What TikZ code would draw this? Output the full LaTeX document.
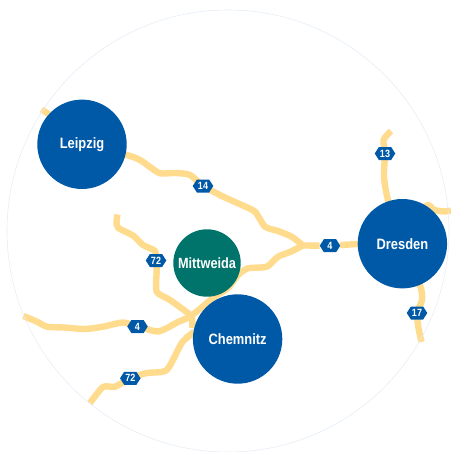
\documentclass[tikz,border=0pt]{standalone}
\usepackage{fontspec}
\setmainfont[FakeStretch=0.86]{Liberation Sans}
\usetikzlibrary{shapes.symbols,backgrounds}
\definecolor{cityblue}{HTML}{0059A7}
\definecolor{citygreen}{HTML}{00736B}
\definecolor{roadyellow}{HTML}{FFDB8E}
\definecolor{ringline}{HTML}{E6EDF5}
\tikzset{
  city/.style={circle,fill=cityblue,text=white,inner sep=0pt,minimum size=89.4pt,font=\fontsize{15}{16}\selectfont\bfseries},
  town/.style={city,fill=citygreen,minimum size=67.4pt,font=\fontsize{14.8}{16}\selectfont\bfseries},
  shield/.style={signal,signal to=east and west,signal pointer angle=115,fill=cityblue,text=white,inner sep=0pt,minimum width=20.5pt,minimum height=13pt,font=\fontsize{10.5}{11}\selectfont\bfseries},
  road/.style={draw=roadyellow,line width=6.4pt,line join=round,line cap=butt},
  ring/.style={draw=ringline,line width=0.6pt},
}
\begin{document}
\begin{tikzpicture}[x=1pt,y=-1pt]
\useasboundingbox (0,0) rectangle (450,452);
\clip (0,0) rectangle (450,452);
\draw[ring] (228,231) circle[radius=221pt];
\node[city] (leipzig) at (82,144.3) {Leipzig};
\node[city] (dresden) at (402.4,243.7) {Dresden};
\node[city] (chemnitz) at (237.6,339) {Chemnitz};
\node[town] (mittweida) at (207,263) {Mittweida};
\node[shield] (s14) at (203,186) {14};
\node[shield] (s4e) at (330,245.7) {4};
\node[shield] (s13) at (385,153.5) {13};
\node[shield] (s17) at (417,313) {17};
\node[shield] (s72n) at (156,260.5) {72};
\node[shield] (s4w) at (137.5,326.5) {4};
\node[shield] (s72s) at (130.3,378.3) {72};
\coordinate (fork) at (303,245.5);
\coordinate (hub) at (191,316);
\coordinate (endA) at (41.5,109.5);
\coordinate (endB) at (117.5,214.5);
\coordinate (endC) at (23.5,316);
\coordinate (endD) at (90,403);
\coordinate (endE) at (391,131);
\coordinate (endF) at (421.5,342);
\coordinate (endG) at (451,210.5);
\begin{scope}[on background layer]
\draw[road] (endA) -- (47,113) -- (leipzig);
\draw[road] plot[smooth,tension=0.4] coordinates {(leipzig) (126.7,155) (140,160) (150,167) (160,173.3) (176,173) (190,175) (s14) (214,192) (225,197.5) (241.7,205) (255,211.7) (265,226.7) (278,231) (291.7,236.7) (fork)};
\draw[road] (fork) -- (s4e) -- (357.7,244) -- (dresden);
\draw[road] plot[smooth,tension=0.4] coordinates {(fork) (290,252) (278,256.7) (266.7,266.7) (248,268.3) (238,275) (228,288) (213,298) (hub) (178,322) (167,328) (157,331.5) (s4w) (123,322.5) (103,326.7) (85,329) (64,327.5) (47,326.7) (37,321.7) (endC)};
\draw[road] plot[smooth,tension=0.4] coordinates {(endB) (116.5,222) (118.3,228) (133,235.5) (143,245) (155,251) (s72n) (156.7,270) (156.7,291.7) (170,300) (hub) (192,328)};
\draw[road] (chemnitz) -- (194,332) -- (186,338);
\draw[road] plot[smooth,tension=0.4] coordinates {(194,332) (181.7,343) (166.7,370) (146.7,373) (s72s) (115,386.7) (103,387) (endD)};
\draw[road] plot[smooth,tension=0.4] coordinates {(endE) (383.5,140) (s13) (384,176.7) (388,200) (dresden)};
\draw[road] plot[smooth,tension=0.4] coordinates {(dresden) (426,206) (434,210) (445,211.5) (endG)};
\draw[road] plot[smooth,tension=0.4] coordinates {(dresden) (420,285) (422,300) (s17) (418.5,328) (endF)};
\end{scope}
\end{tikzpicture}
\end{document}
